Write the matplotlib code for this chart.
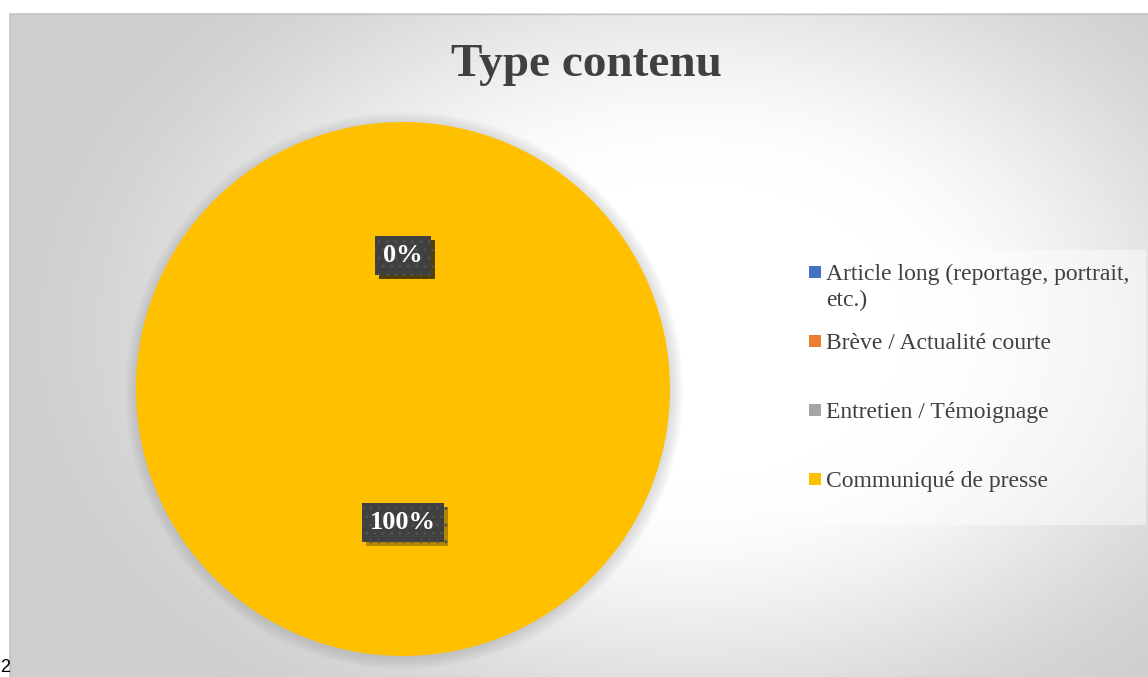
import matplotlib.pyplot as plt
import matplotlib.patheffects as pe
import numpy as np
from matplotlib.patches import Circle, Rectangle

categories = [
    "Article long (reportage, portrait,\netc.)",
    "Brève / Actualité courte",
    "Entretien / Témoignage",
    "Communiqué de presse",
]
values = [0, 0, 0, 100]
colors = ["#4472C4", "#ED7D31", "#A5A5A5", "#FFC000"]
title = "Type contenu"
page_number = "2"

W, H = 1148, 677
TEXT = "#404040"
SERIF = ["Liberation Serif", "DejaVu Serif"]

fig = plt.figure(figsize=(W / 100, H / 100), dpi=100)
fig.patch.set_facecolor("white")

# chart area with a soft radial fill, in pixel units (y down)
bg = fig.add_axes([9 / W, 0, 1 - 9 / W, (H - 13) / H])
xs = np.arange(9, W) + 0.5
ys = np.arange(13, H) + 0.5
gx, gy = np.meshgrid(xs, ys)
t = np.sqrt(((gx - 690) / 610) ** 2 + ((gy - 330) / 430) ** 2)
s = np.clip((t - 0.35) / 0.8, 0, 1)
shade = 1 - 0.19 * (s * s * (3 - 2 * s))
bg.imshow(np.dstack([shade] * 3), extent=(9, W, H, 13), aspect="auto", interpolation="bilinear")
bg.set_xlim(9, W)
bg.set_ylim(H, 13)
bg.axis("off")
bg.add_patch(Rectangle((9.5, 13.5), W, H, fill=False, edgecolor="#c4c4c4", lw=1))

# legend panel
bg.add_patch(Rectangle((797, 250), 349, 275, facecolor="white", alpha=0.45, edgecolor="none"))
legend_y = [272, 341, 410, 479]
for label, color, y in zip(categories, colors, legend_y):
    bg.add_patch(Rectangle((809, y - 6), 12, 12, facecolor=color, edgecolor="none"))
    bg.text(826, y - 8, label, fontsize=17, family=SERIF, color=TEXT,
            ha="left", va="top", linespacing=1.3)

fig.text(586 / W, 1 - 65 / H, title, fontsize=34, fontweight="bold", family=SERIF,
         color=TEXT, ha="center", va="center")
fig.text(0, 1 - 668 / H, page_number, fontsize=13, family=["Liberation Sans", "DejaVu Sans"],
         color="black", ha="left", va="center")

# pie
ax = fig.add_axes([136 / W, 21 / H, 534 / W, 534 / H])

for i in range(10):
    ax.add_patch(Circle((0.004, -0.006), 1 + 0.005 * i, facecolor="#707070",
                        alpha=0.025, edgecolor="none", clip_on=False, zorder=0))

wedges, texts, autotexts = ax.pie(
    values, colors=colors, startangle=90, counterclock=False, radius=1,
    autopct="%1.0f%%", pctdistance=0.5, frame=True,
    wedgeprops={"edgecolor": "none", "zorder": 1},
)
ax.set_xlim(-1, 1)
ax.set_ylim(-1, 1)
ax.axis("off")

for at in autotexts:
    at.set_fontsize(19)
    at.set_fontweight("bold")
    at.set_family(SERIF)
    at.set_color("white")
    at.set_zorder(5)
    at.set_bbox(dict(boxstyle="square,pad=0.3", facecolor="#404040", edgecolor="#505050",
                     hatch="..", linewidth=0))
    at.get_bbox_patch().set_path_effects([
        pe.SimplePatchShadow(offset=(3, -3), shadow_rgbFace="black", alpha=0.3),
        pe.Normal(),
    ])

fig.savefig("out.png", dpi=100)
